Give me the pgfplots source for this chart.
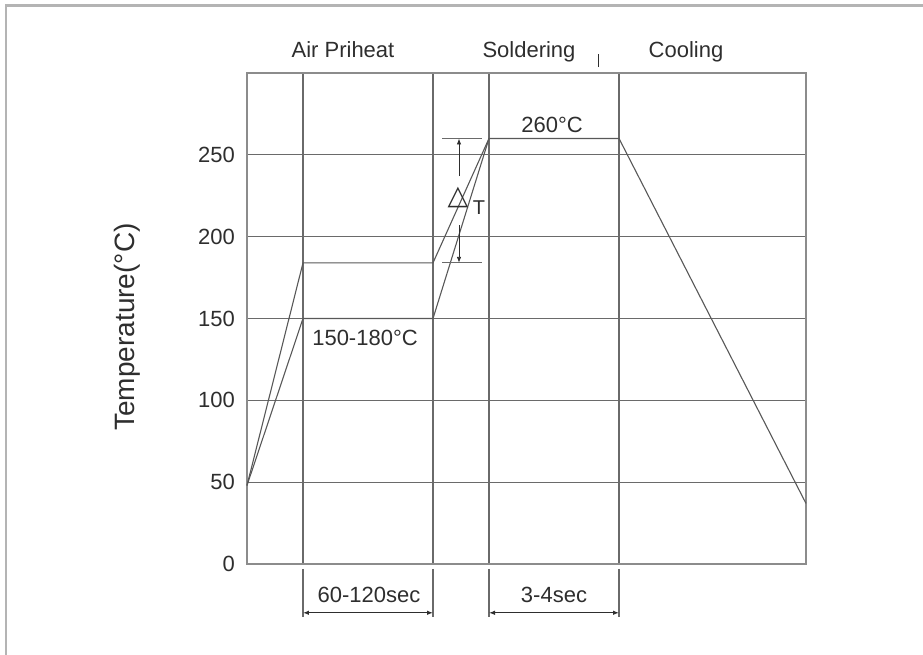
\documentclass[border=0pt]{standalone}
\usepackage{pgfplots}
\pgfplotsset{compat=1.18}
\usetikzlibrary{arrows.meta}
\usepackage{fontspec}
\setmainfont{Liberation Sans}
\newfontfamily\dejavu{DejaVu Sans}
\definecolor{ink}{HTML}{2E2E2E}
\definecolor{gridc}{HTML}{6A6A6A}
\definecolor{framec}{HTML}{8C8C8C}
\definecolor{curve}{HTML}{585858}
\definecolor{outer}{HTML}{B4B4B4}

\begin{document}
\begin{tikzpicture}[x=1pt,y=1pt]
\useasboundingbox (-247,-90) rectangle (676,564);
\draw[outer, line width=2.5pt] (-241,-91) -- (-241,558.5) -- (677,558.5);
\begin{axis}[
  at={(0,0)}, anchor=south west,
  scale only axis, width=559pt, height=491pt,
  xmin=0, xmax=559, ymin=0, ymax=300,
  xtick={56,186,242,372}, xticklabels={},
  ytick={0,50,...,250},
  major tick length=0pt,
  grid=major,
  grid style={gridc, line width=1.1pt},
  axis line style={framec, line width=2pt},
  clip=false,
  font=\fontsize{22}{26}\selectfont,
  /pgf/number format/assume math mode=true,
  yticklabel style={ink, inner sep=0pt, xshift=-12pt},
]
  % reflow profiles
  \addplot[curve, line width=1.1pt] coordinates {
    (0,48) (56,184) (186,184) (242,260) (372,260) (559,37)
  };
  \addplot[curve, line width=1.1pt] coordinates {
    (0,48) (56,150) (186,150) (242,260)
  };

  % zone titles
  \node[ink, anchor=base] at (axis cs:96,309.6) {Air Priheat};
  \node[ink, anchor=base] at (axis cs:282,309.6) {Soldering};
  \node[ink, anchor=base] at (axis cs:439,309.6) {Cooling};
  \draw[ink, line width=1pt] (axis cs:351,303.6) -- (axis cs:351,311.6);

  % y label
  \node[ink, rotate=90, font=\fontsize{28}{32}\selectfont] at (axis cs:-120,144.8) {Temperature(°C)};

  % value labels
  \node[ink, anchor=base] at (axis cs:305,263.8) {260°C};
  \node[ink, anchor=base] at (axis cs:118,133.2) {150-180°C};

  % delta T
  \draw[gridc, line width=1pt] (axis cs:195,260) -- (axis cs:235,260);
  \draw[gridc, line width=1pt] (axis cs:195,184) -- (axis cs:235,184);
  \draw[ink, line width=0.8pt, -{Latex[length=6pt,width=4.5pt]}] (axis cs:212,237) -- (axis cs:212,260);
  \draw[ink, line width=0.8pt, -{Latex[length=6pt,width=4.5pt]}] (axis cs:212,207) -- (axis cs:212,184);
  \node[ink, font=\fontsize{27}{30}\selectfont] at (axis cs:211,224) {\dejavu △};
  \node[ink, anchor=base, font=\fontsize{20}{24}\selectfont] at (axis cs:232,213.8) {T};

  % time spans
  \draw[gridc, line width=1.1pt] (axis cs:56,-3) -- (axis cs:56,-32.4);
  \draw[gridc, line width=1.1pt] (axis cs:186,-3) -- (axis cs:186,-32.4);
  \draw[gridc, line width=1.1pt] (axis cs:242,-3) -- (axis cs:242,-32.4);
  \draw[gridc, line width=1.1pt] (axis cs:372,-3) -- (axis cs:372,-32.4);
  \draw[ink, line width=1pt, {Latex[length=6pt,width=4.5pt]}-{Latex[length=6pt,width=4.5pt]}] (axis cs:56,-29.8) -- (axis cs:186,-29.8);
  \draw[ink, line width=1pt, {Latex[length=6pt,width=4.5pt]}-{Latex[length=6pt,width=4.5pt]}] (axis cs:242,-29.8) -- (axis cs:372,-29.8);
  \node[ink, anchor=base] at (axis cs:122,-23.6) {60-120sec};
  \node[ink, anchor=base] at (axis cs:307,-23.6) {3-4sec};
\end{axis}
\end{tikzpicture}
\end{document}
